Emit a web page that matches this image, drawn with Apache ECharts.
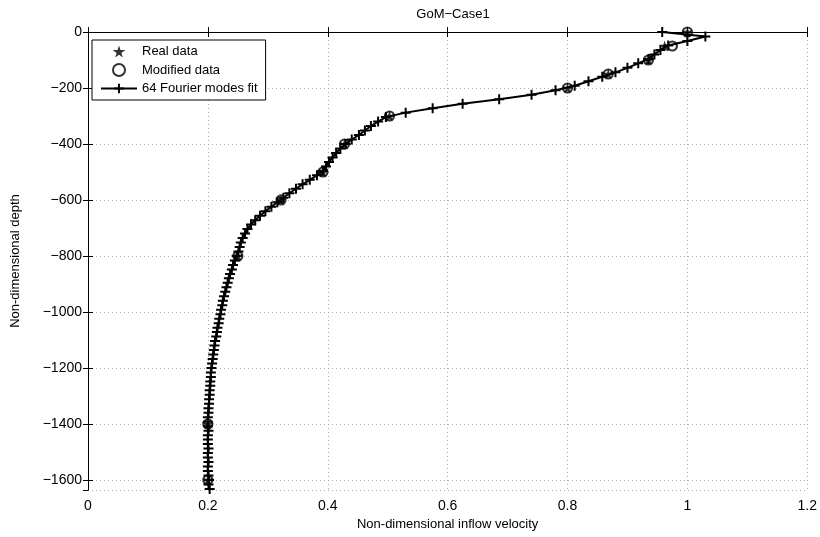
<!DOCTYPE html>
<html>
  <meta charset="UTF-8">
  <title>GoM-Case1</title>
  <style type="text/css">
    html,body{margin:0px;height:100%;width:100%;background:#fff}
    .container{width:820px;height:537px}
  </style>
  <script type="text/javascript" src="https://cdn.jsdelivr.net/npm/echarts@6/dist/echarts.min.js"></script>
  <body>
    <div id="chart" class="container"></div>

    <script>
      // measured data points (depth, velocity)
      var realDepth = [0, -50, -100, -150, -200, -300, -400, -500, -600, -800, -1400, -1600];
      var realVel   = [1.0, 0.962, 0.935, 0.868, 0.8, 0.503, 0.428, 0.392, 0.322, 0.25, 0.2, 0.2];
      var modDepth  = [0, -50, -100, -150, -200, -300, -400, -500, -600, -800, -1400, -1600];
      var modVel    = [1.0, 0.975, 0.935, 0.868, 0.8, 0.503, 0.428, 0.392, 0.322, 0.25, 0.2, 0.2];

      // 64 Fourier modes fit
      var fitDepth = [0, -16, -32, -48, -64, -80, -96, -112, -128, -144, -160, -176, -192, -208, -224, -240,
        -256, -272, -288, -304, -320, -336, -352, -368, -384, -400, -416, -432, -448, -464, -480, -496,
        -512, -528, -544, -560, -576, -592, -608, -624, -640, -656, -672, -688, -704, -720, -736, -752,
        -768, -784, -800, -816, -832, -848, -864, -880, -896, -912, -928, -944, -960, -976, -992, -1008,
        -1024, -1040, -1056, -1072, -1088, -1104, -1120, -1136, -1152, -1168, -1184, -1200, -1216, -1232,
        -1248, -1264, -1280, -1296, -1312, -1328, -1344, -1360, -1376, -1392, -1408, -1424, -1440, -1456,
        -1472, -1488, -1504, -1520, -1536, -1552, -1568, -1584, -1600, -1616, -1632];
      var fitVel = [0.958, 1.03, 1.0, 0.968, 0.955, 0.945, 0.935, 0.918, 0.9, 0.88, 0.858, 0.835, 0.812, 0.78, 0.74, 0.686,
        0.625, 0.575, 0.53, 0.497, 0.484, 0.472, 0.462, 0.452, 0.44, 0.43, 0.421, 0.414, 0.408, 0.402, 0.397, 0.392,
        0.382, 0.37, 0.358, 0.347, 0.336, 0.326, 0.316, 0.306, 0.296, 0.287, 0.279, 0.272, 0.266, 0.262, 0.258, 0.255,
        0.253, 0.251, 0.248, 0.245, 0.242, 0.24, 0.237, 0.235, 0.233, 0.231, 0.229, 0.227, 0.225, 0.224, 0.222, 0.221,
        0.219, 0.218, 0.216, 0.215, 0.214, 0.212, 0.211, 0.21, 0.209, 0.208, 0.207, 0.206, 0.205, 0.205,
        0.204, 0.204, 0.203, 0.203, 0.202, 0.202, 0.201, 0.201, 0.2, 0.2, 0.2, 0.201, 0.2, 0.2,
        0.2, 0.201, 0.2, 0.2, 0.201, 0.2, 0.2, 0.201, 0.202, 0.201, 0.203];

      var xTicks = [0, 0.2, 0.4, 0.6, 0.8, 1, 1.2];

      var starPath = 'path://M50,0L61,35L98,35L68,57L79,91L50,70L21,91L32,57L2,35L39,35Z';
      var plusPath = 'path://M4,0H6V4H10V6H6V10H4V6H0V4H4Z';
      var font = 'Liberation Sans, Arial, Helvetica, sans-serif';

      function pairs(xs, ys) {
        return xs.map(function (v, i) { return [v, ys[i]]; });
      }
      function minus(v) { return String(v).replace('-', '\u2212'); }

      var chart = echarts.init(document.getElementById('chart'));
      var option = {
        animation: false,
        backgroundColor: '#fff',
        textStyle: { fontFamily: font },
        title: {
          text: 'GoM\u2212Case1',
          left: 448, top: 3, textAlign: 'center',
          textStyle: { fontSize: 13, fontWeight: 'normal', color: '#000', fontFamily: font }
        },
        legend: {
          orient: 'vertical',
          left: 92, top: 40,
          padding: [5, 8, 5, 8],
          itemGap: 5,
          itemWidth: 36, itemHeight: 12,
          borderColor: '#000', borderWidth: 1,
          backgroundColor: '#fff',
          textStyle: { fontSize: 13, color: '#000', fontFamily: font },
          data: ['Real data', 'Modified data', '64 Fourier modes fit']
        },
        grid: { left: 88, right: 12, top: 32, bottom: 47 },
        xAxis: [{
          type: 'value', min: 0, max: 1.2, interval: 0.2,
          name: 'Non-dimensional inflow velocity',
          nameLocation: 'middle', nameGap: 27,
          nameTextStyle: { fontSize: 13, color: '#000', fontFamily: font },
          axisLine: { lineStyle: { color: '#000', width: 1 } },
          axisTick: { inside: true, length: 5, lineStyle: { color: '#000' } },
          axisLabel: { fontSize: 14, color: '#000', margin: 9,
            formatter: function (v) { return xTicks.indexOf(+v.toFixed(1)) >= 0 ? String(+v.toFixed(1)) : ''; } },
          splitLine: { show: true, lineStyle: { color: '#aaa', type: [1, 3] } }
        }, {
          type: 'value', min: 0, max: 1.2, interval: 0.2, position: 'top',
          axisLine: { lineStyle: { color: '#000', width: 1 } },
          axisTick: { inside: true, length: 5, lineStyle: { color: '#000' } },
          axisLabel: { show: false }, splitLine: { show: false }
        }],
        yAxis: [{
          type: 'value', min: -1636, max: 0, splitNumber: 8,
          name: 'Non-dimensional depth',
          nameLocation: 'middle', nameGap: 66,
          nameTextStyle: { fontSize: 13, color: '#000', fontFamily: font },
          axisLine: { lineStyle: { color: '#000', width: 1 } },
          axisTick: { inside: true, length: 5, lineStyle: { color: '#000' } },
          axisLabel: { fontSize: 14, color: '#000', margin: 6, showMinLabel: false,
            formatter: function (v) { return v % 200 === 0 ? minus(v) : ''; } },
          splitLine: { show: true, lineStyle: { color: '#aaa', type: [1, 3] } }
        }, {
          type: 'value', min: -1636, max: 0, splitNumber: 8, position: 'right',
          axisLine: { lineStyle: { color: '#000', width: 1 } },
          axisTick: { inside: true, length: 5, lineStyle: { color: '#000' } },
          axisLabel: { show: false }, splitLine: { show: false }
        }],
        series: [
          {
            name: 'Real data', type: 'scatter',
            symbol: starPath, symbolSize: 11,
            itemStyle: { color: '#000' },
            data: pairs(realVel, realDepth), z: 4
          },
          {
            name: 'Modified data', type: 'scatter',
            symbol: 'circle', symbolSize: 9,
            itemStyle: { color: 'rgba(0,0,0,0)', borderColor: '#000', borderWidth: 2.2 },
            data: pairs(modVel, modDepth), z: 5
          },
          {
            name: '64 Fourier modes fit', type: 'line',
            symbol: plusPath, symbolSize: 10, showAllSymbol: true,
            lineStyle: { color: '#000', width: 2 },
            itemStyle: { color: '#000' },
            data: pairs(fitVel, fitDepth), z: 3
          }
        ]
      };
      chart.setOption(option);
    </script>
  </body>
</html>
